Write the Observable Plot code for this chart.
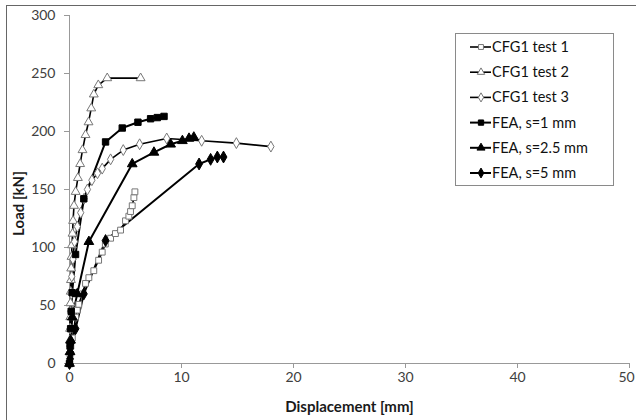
<!DOCTYPE html>
<html>
<head>
<meta charset="utf-8">
<script src="https://cdn.jsdelivr.net/npm/d3@7"></script>
<script src="https://cdn.jsdelivr.net/npm/@observablehq/plot@0.6"></script>
<style>
  html, body { margin: 0; padding: 0; background: #fff; }
  #wrap { position: relative; width: 636px; height: 420px; overflow: hidden; font-family: Lato, "Open Sans", sans-serif; }
  #borderL { position: absolute; left: 6px; top: 5px; width: 1px; height: 420px; background: #666; }
  #borderT { position: absolute; left: 6px; top: 5px; width: 640px; height: 1px; background: #666; }
  #legend { position: absolute; left: 455px; top: 33px; width: 157px; height: 151px; border: 1px solid #8a8a8a; background: #fff; }
</style>
</head>
<body>
<div id="wrap"><div id="borderL"></div><div id="borderT"></div></div>
<script>
// ---- data (displacement [mm], load [kN]) ----
const seriesNames = ["CFG1 test 1", "CFG1 test 2", "CFG1 test 3", "FEA, s=1 mm", "FEA, s=2.5 mm", "FEA, s=5 mm"];

const test1X = [0, 0.05, 0.12, 0.25, 0.4, 0.54, 0.69, 0.83, 1.14, 1.43, 1.73, 2.17, 2.6, 2.92, 3.2, 3.67, 4.1, 4.56, 5.0, 5.3, 5.45, 5.6, 5.75, 5.84];
const test1Y = [0, 8, 15, 22, 30, 40, 46, 51, 60, 69, 74, 80, 89, 96, 103, 108, 112, 115, 123, 127, 131, 136, 143, 148];

const test2X = [0, 0.02, 0.04, 0.05, 0.07, 0.09, 0.11, 0.13, 0.15, 0.18, 0.22, 0.27, 0.32, 0.4, 0.55, 0.75, 0.95, 1.16, 1.43, 1.7, 1.94, 2.17, 2.57, 3.37, 6.35];
const test2Y = [0, 10, 20, 30, 40, 52, 62, 72, 82, 92, 102, 112, 123, 136, 148, 160, 172, 184, 197, 208, 220, 232, 240, 246, 246];

const test3X = [0, 0.03, 0.06, 0.1, 0.15, 0.2, 0.3, 0.45, 0.7, 1.0, 1.3, 1.6, 2.0, 2.5, 2.92, 3.67, 4.8, 6.26, 8.68, 11.8, 14.9, 17.98];
const test3Y = [0, 15, 30, 45, 60, 75, 90, 105, 118, 130, 142, 150, 158, 164, 168, 176, 184, 189, 194, 192, 190, 187];

const fea1X = [0, 0.05, 0.1, 0.15, 0.24, 0.54, 1.28, 3.22, 4.71, 6.11, 7.24, 7.84, 8.44];
const fea1Y = [0, 15, 30, 45, 61, 94, 142, 191, 203, 208, 211, 212, 213];

const fea25X = [0, 0.05, 0.1, 0.25, 0.69, 1.73, 5.6, 7.54, 9.03, 10.08, 10.67, 11.1];
const fea25Y = [0, 10, 20, 40, 60, 105, 172, 182, 189, 192, 194, 195];

const fea5X = [0, 0.05, 0.1, 0.15, 0.54, 1.28, 3.22, 11.57, 12.6, 13.2, 13.75];
const fea5Y = [0, 4, 9, 18, 30, 60, 106, 172, 176, 178, 178];

const xTicks = [0, 10, 20, 30, 40, 50];
const yTicks = [0, 50, 100, 150, 200, 250, 300];

// ---- build table ----
const allX = [test1X, test2X, test3X, fea1X, fea25X, fea5X];
const allY = [test1Y, test2Y, test3Y, fea1Y, fea25Y, fea5Y];
const symbols = ["square", "triangle", "diamond", "square", "triangle", "diamond"];
const filled = [false, false, false, true, true, true];
const rows = [];
allX.forEach((xs, i) => xs.forEach((x, j) => rows.push({ series: seriesNames[i], x, y: allY[i][j], idx: i })));

const marks = [];
seriesNames.forEach((s, i) => {
  marks.push(Plot.line(rows.filter(d => d.idx === i), { x: "x", y: "y", stroke: "#000", strokeWidth: filled[i] ? 2 : 1.6 }));
});
seriesNames.forEach((s, i) => {
  marks.push(Plot.dot(rows.filter(d => d.idx === i), {
    x: "x", y: "y", symbol: () => symbols[i], r: filled[i] ? 3.6 : 3.3,
    fill: filled[i] ? "#000" : "#fff", stroke: filled[i] ? "#000" : "#777", strokeWidth: 1
  }));
});

const chart = Plot.plot({
  width: 636,
  height: 420,
  marginLeft: 69,
  marginRight: 7,
  marginTop: 15,
  marginBottom: 57,
  style: { fontFamily: "Lato, 'Open Sans', sans-serif", fontSize: "14px", color: "#404040", background: "transparent", overflow: "visible" },
  x: { domain: [0, 50] },
  y: { domain: [0, 300] },
  marks: [
    Plot.ruleX([0], { stroke: "#999", strokeWidth: 1 }),
    Plot.ruleY([0], { stroke: "#999", strokeWidth: 1 }),
    Plot.axisX({ ticks: xTicks, tickSize: 5, tickPadding: 4, stroke: "#999", fill: "#404040", fontSize: 14,
      label: "Displacement [mm]", labelAnchor: "center", labelArrow: "none", labelOffset: 48 }),
    Plot.axisY({ ticks: yTicks, tickSize: 5, tickPadding: 9, stroke: "#999", fill: "#404040", fontSize: 14,
      label: "Load [kN]", labelAnchor: "center", labelArrow: "none", labelOffset: 56 }),
    ...marks
  ]
});
// axis labels bold, dark; y label a bit lower like the reference
d3.select(chart).selectAll("g[aria-label='x-axis label'] text, g[aria-label='y-axis label'] text")
  .attr("font-weight", "bold").attr("fill", "#1a1a1a").attr("font-size", 15);
d3.select(chart).selectAll("g[aria-label='y-axis label'] text").attr("dx", "-14");
// keep the last x tick label inside the picture
d3.select(chart).selectAll("g[aria-label='x-axis tick label'] text")
  .filter(function () { return this.textContent.trim() === "50"; })
  .attr("dx", "-3");
chart.style.position = "absolute";
chart.style.left = "0px";
chart.style.top = "0px";
document.getElementById("wrap").appendChild(chart);

// ---- legend ----
const legend = document.createElement("div");
legend.id = "legend";
document.getElementById("wrap").appendChild(legend);
const lsvg = d3.select(legend).append("svg").attr("width", 157).attr("height", 151);
const symMap = { square: d3.symbolSquare, triangle: d3.symbolTriangle, diamond: d3.symbolDiamond };
seriesNames.forEach((s, i) => {
  const cy = 13 + i * 25.2;
  const g = lsvg.append("g").attr("transform", `translate(0,${cy})`);
  g.append("line").attr("x1", 14).attr("x2", 35).attr("y1", 0).attr("y2", 0).attr("stroke", "#000").attr("stroke-width", filled[i] ? 2 : 1.6);
  g.append("path").attr("transform", "translate(25,0)")
    .attr("d", d3.symbol(symMap[symbols[i]], filled[i] ? 28 : 24)())
    .attr("fill", filled[i] ? "#000" : "#fff").attr("stroke", filled[i] ? "#000" : "#777");
  g.append("text").attr("x", 36).attr("y", 0).attr("dy", "0.35em").attr("font-size", 14.5)
    .attr("font-family", "Lato, 'Open Sans', sans-serif").attr("fill", "#111").text(s);
});
</script>
</body>
</html>
